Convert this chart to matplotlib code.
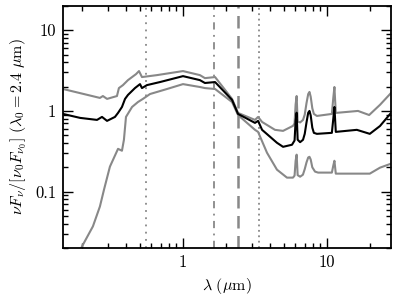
import numpy as np
import matplotlib
matplotlib.use('Agg')
import matplotlib.pyplot as plt
from matplotlib.ticker import LogLocator, FixedLocator, FixedFormatter, NullFormatter

plt.rcParams['font.family'] = 'serif'
plt.rcParams['font.serif'] = ['cmr10', 'DejaVu Serif']
plt.rcParams['mathtext.fontset'] = 'cm'
plt.rcParams['axes.unicode_minus'] = False

# median SED (black)
wl_mid = [0.147, 0.193, 0.253, 0.274, 0.297, 0.337, 0.354, 0.377, 0.396, 0.415, 0.464,
          0.503, 0.519, 0.562, 0.692, 1.0, 1.31, 1.42, 1.67, 2.19, 2.41, 3.16, 3.32, 3.54,
          4.49, 4.95, 5.71, 5.95, 6.05, 6.15, 6.25, 6.5, 6.81, 7.0, 7.2, 7.4, 7.55, 7.7, 7.9,
          8.1, 8.5, 10.8, 11.05, 11.25, 11.5, 16.1, 19.8, 23.3, 27.8]
sed_mid = [0.918, 0.82, 0.774, 0.843, 0.753, 0.843, 0.945, 1.12, 1.41, 1.58, 1.92,
           2.15, 1.92, 2.09, 2.28, 2.70, 2.41, 2.22, 2.28, 1.37, 0.918, 0.711, 0.753, 0.583,
           0.403, 0.359, 0.381, 0.43, 0.75, 0.95, 0.44, 0.41, 0.439, 0.52, 0.72, 0.95, 1.0, 0.88, 0.62,
           0.535, 0.52, 0.535, 0.8, 1.12, 0.55, 0.583, 0.52, 0.65, 0.945]

# upper envelope (gray)
wl_hi = [0.147, 0.265, 0.278, 0.297, 0.348, 0.359, 0.383, 0.415, 0.472, 0.495, 0.519,
         0.66, 1.0, 1.31, 1.42, 1.67, 2.19, 2.41, 3.16, 3.32, 3.54, 4.35, 4.95, 5.8, 5.95,
         6.05, 6.15, 6.25, 6.5, 6.81, 7.0, 7.2, 7.4, 7.55, 7.7, 7.9, 8.1, 8.5, 10.8, 11.05,
         11.25, 11.5, 16.4, 19.6, 23.3, 27.8]
sed_hi = [1.87, 1.45, 1.53, 1.41, 1.53, 1.92, 2.09, 2.41, 2.86, 3.12, 2.63,
          2.78, 3.12, 2.78, 2.55, 2.63, 1.41, 0.945, 0.774, 0.843, 0.73, 0.583, 0.566, 0.653, 0.7,
          1.2, 1.53, 0.74, 0.72, 0.774, 0.9, 1.25, 1.62, 1.72, 1.5, 1.08, 0.918, 0.867, 0.918, 1.45,
          1.98, 0.945, 1.0, 0.89, 1.19, 1.67]

# lower envelope (gray)
wl_lo = [0.193, 0.199, 0.237, 0.265, 0.283, 0.311, 0.354, 0.377, 0.389, 0.402, 0.443,
         0.487, 0.527, 0.59, 0.774, 1.0, 1.31, 1.42, 1.67, 2.19, 2.41, 3.16, 3.32, 3.83,
         4.49, 5.27, 5.8, 5.95, 6.05, 6.15, 6.25, 6.5, 6.8, 7.0, 7.2, 7.4, 7.55, 7.7, 7.9,
         8.25, 8.67, 10.8, 11.05, 11.25, 11.5, 19.8, 23.3, 27.8]
sed_lo = [0.018, 0.0209, 0.0371, 0.0654, 0.106, 0.204, 0.339, 0.321, 0.439, 0.843, 1.12,
          1.29, 1.41, 1.62, 1.87, 2.15, 1.98, 1.92, 1.87, 1.29, 0.89, 0.583, 0.55, 0.303,
          0.187, 0.149, 0.149, 0.158, 0.24, 0.287, 0.16, 0.153, 0.162, 0.19, 0.23, 0.265, 0.27, 0.25, 0.2,
          0.177, 0.172, 0.172, 0.21, 0.241, 0.167, 0.167, 0.198, 0.222]

# band markers
wl_v, wl_h, wl_0, wl_l = 0.55, 1.65, 2.4, 3.35

fig = plt.figure(figsize=(3.99, 2.99), dpi=100)
ax = fig.add_axes([0.158, 0.1706, 0.822, 0.8094])

gray = '#888888'
ax.axvline(wl_v, color=gray, ls=(0, (1, 3)), lw=1.3)
ax.axvline(wl_h, color=gray, ls=(0, (4, 3, 1, 3)), lw=1.3)
ax.axvline(wl_0, color=gray, ls=(0, (5, 3)), lw=1.8)
ax.axvline(wl_l, color=gray, ls=(0, (1, 2)), lw=1.3)

ax.plot(wl_hi, sed_hi, color=gray, lw=1.5)
ax.plot(wl_lo, sed_lo, color=gray, lw=1.5)
ax.plot(wl_mid, sed_mid, color='black', lw=1.5)

ax.set_xscale('log')
ax.set_yscale('log')
ax.set_xlim(0.147, 27.8)
ax.set_ylim(0.02, 20)

ax.xaxis.set_major_locator(FixedLocator([1, 10]))
ax.xaxis.set_major_formatter(FixedFormatter(['1', '10']))
ax.yaxis.set_major_locator(FixedLocator([0.1, 1, 10]))
ax.yaxis.set_major_formatter(FixedFormatter(['0.1', '1', '10']))
ax.xaxis.set_minor_locator(LogLocator(base=10, subs=np.arange(2, 10)))
ax.yaxis.set_minor_locator(LogLocator(base=10, subs=np.arange(2, 10)))
ax.xaxis.set_minor_formatter(NullFormatter())
ax.yaxis.set_minor_formatter(NullFormatter())

ax.tick_params(which='both', direction='in', top=True, right=True, labelsize=12, width=1)
ax.tick_params(which='major', length=7, pad=5)
ax.tick_params(which='minor', length=3.5)
for s in ax.spines.values():
    s.set_linewidth(1.3)

ax.set_xlabel(r'$\lambda\ (\mu{\rm m})$', fontsize=11.5)
ax.set_ylabel(r'$\nu F_\nu/[\nu_0 F_{\nu_0}]\ (\lambda_0 = 2.4\ \mu{\rm m})$', fontsize=11.5)

fig.savefig('out.png', dpi=100)
